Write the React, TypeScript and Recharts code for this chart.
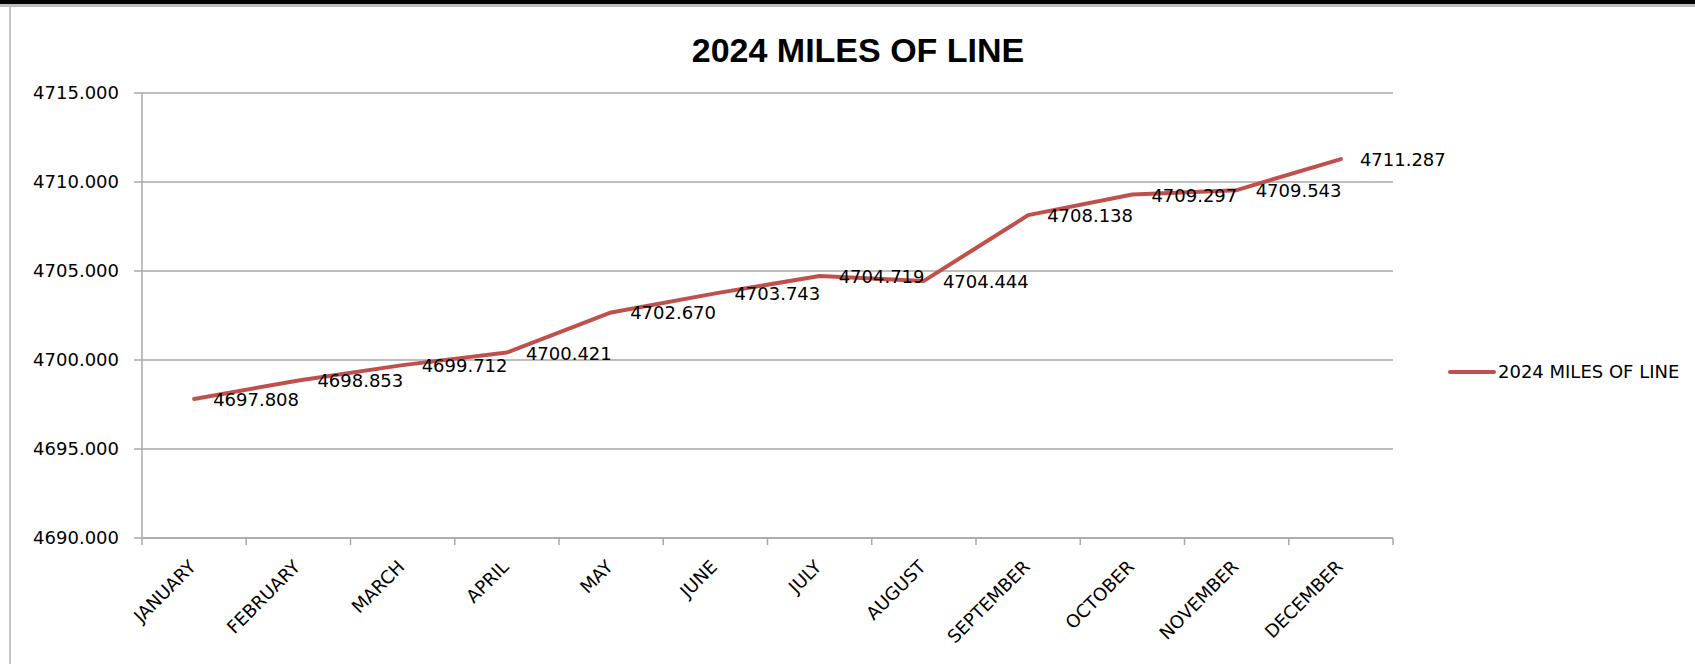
import React from 'react';
import { LineChart, Line, XAxis, YAxis, CartesianGrid, LabelList, Legend } from 'recharts';

const chartTitle = '2024 MILES OF LINE';
const seriesName = '2024 MILES OF LINE';
const categories = ['JANUARY', 'FEBRUARY', 'MARCH', 'APRIL', 'MAY', 'JUNE', 'JULY', 'AUGUST', 'SEPTEMBER', 'OCTOBER', 'NOVEMBER', 'DECEMBER'];
const milesOfLine = [4697.808, 4698.853, 4699.712, 4700.421, 4702.67, 4703.743, 4704.719, 4704.444, 4708.138, 4709.297, 4709.543, 4711.287];
const yTicks = [4690, 4695, 4700, 4705, 4710, 4715];

// category i sits between boundary ticks i and i+1
const data = categories.map((month, i) => ({ pos: i + 0.5, month, value: milesOfLine[i] }));
const boundaryTicks = [...categories.map((_, i) => i), categories.length];

const W = 1695;
const H = 664;
const PLOT_LEFT = 142;
const PLOT_RIGHT = 1393;
const PLOT_TOP = 93;
const PLOT_BOTTOM = 538;
const STEP = (PLOT_RIGHT - PLOT_LEFT) / categories.length;
const FONT = '"DejaVu Sans", Verdana, sans-serif';
const RED = '#C0504D';
const GRID = '#A8A8A8';

const XTick = (props: any) => {
  const { x, payload } = props;
  const i = payload.value as number;
  if (i >= categories.length) return <g />;
  const ax = x + STEP / 2 + 3;
  const ay = PLOT_BOTTOM + 30;
  return (
    <text
      x={ax}
      y={ay}
      transform={`rotate(-45 ${ax} ${ay})`}
      textAnchor="end"
      fontFamily={FONT}
      fontSize={18}
      fill="#000"
    >
      {categories[i]}
    </text>
  );
};

const DataLabel = (props: any) => {
  const { x, y, value } = props;
  return (
    <text x={x + 19} y={y + 7} fontFamily={FONT} fontSize={18} fill="#000">
      {Number(value).toFixed(3)}
    </text>
  );
};

const LegendContent = () => (
  <div style={{ display: 'flex', alignItems: 'center', fontFamily: FONT, fontSize: 18, color: '#000', whiteSpace: 'nowrap' }}>
    <div style={{ width: 48, height: 4, background: RED, borderRadius: 2, marginRight: 2 }} />
    <span>{seriesName}</span>
  </div>
);

export default function App() {
  return (
    <div style={{ position: 'absolute', left: 0, top: 0, width: W, height: H, background: '#fff', overflow: 'hidden' }}>
      <div style={{ position: 'absolute', left: 0, top: 0, width: W, height: 4, background: '#000' }} />
      <div style={{ position: 'absolute', left: 0, top: 4, width: W, height: 3, background: '#BDBDBD' }} />
      <div style={{ position: 'absolute', left: 9, top: 7, width: 2, height: H - 7, background: '#C4C4C4' }} />
      <div
        style={{
          position: 'absolute',
          left: 0,
          top: 33,
          width: 1716,
          textAlign: 'center',
          fontFamily: '"Liberation Sans", Arial, sans-serif',
          fontWeight: 'bold',
          fontSize: 34,
          lineHeight: '34px',
          color: '#000',
        }}
      >
        {chartTitle}
      </div>
      <div style={{ position: 'absolute', left: 0, top: 0 }}>
        <LineChart
          width={W}
          height={H}
          data={data}
          margin={{ top: PLOT_TOP, left: PLOT_LEFT - 60, right: W - PLOT_RIGHT, bottom: H - PLOT_BOTTOM - 30 }}
        >
          <CartesianGrid vertical={false} stroke={GRID} strokeWidth={1.5} />
          <XAxis
            dataKey="pos"
            type="number"
            domain={[0, categories.length]}
            ticks={boundaryTicks}
            interval={0}
            height={30}
            tick={<XTick />}
            tickSize={7}
            axisLine={{ stroke: GRID, strokeWidth: 1.5 }}
            tickLine={{ stroke: GRID, strokeWidth: 1.5 }}
          />
          <YAxis
            type="number"
            domain={[4690, 4715]}
            ticks={yTicks}
            interval={0}
            width={60}
            tickFormatter={(v: number) => v.toFixed(3)}
            tick={{ fontFamily: FONT, fontSize: 18, fill: '#000' }}
            tickSize={8}
            tickMargin={15}
            axisLine={{ stroke: GRID, strokeWidth: 1.5 }}
            tickLine={{ stroke: GRID, strokeWidth: 1.5 }}
          />
          <Legend
            layout="vertical"
            align="center"
            verticalAlign="middle"
            content={<LegendContent />}
            wrapperStyle={{ position: 'absolute', left: 1448, top: 361, width: 'auto' }}
          />
          <Line
            name={seriesName}
            type="linear"
            dataKey="value"
            stroke={RED}
            strokeWidth={4}
            strokeLinejoin="round"
            strokeLinecap="round"
            dot={false}
            activeDot={false}
            isAnimationActive={false}
          >
            <LabelList dataKey="value" content={<DataLabel />} />
          </Line>
        </LineChart>
      </div>
    </div>
  );
}
